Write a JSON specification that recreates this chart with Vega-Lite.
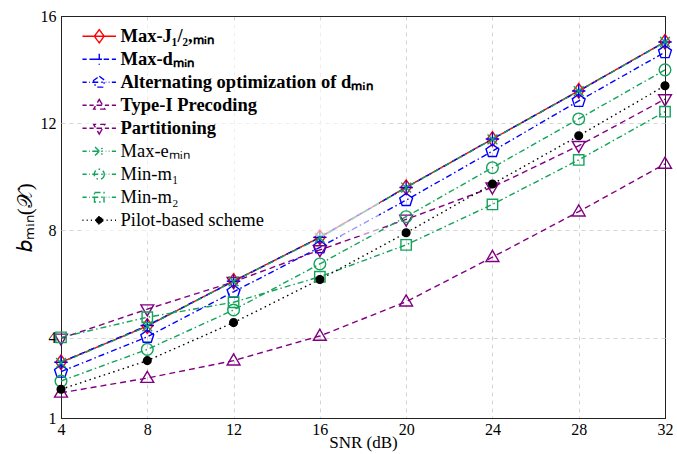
{
  "$schema": "https://vega.github.io/schema/vega-lite/v6.json",
  "width": 604,
  "height": 402,
  "autosize": {"type": "none"},
  "padding": {"left": 61, "top": 16, "right": 12, "bottom": 36},
  "background": "white",
  "config": {"font": "Liberation Serif", "view": {"stroke": "black", "strokeWidth": 1}},
  "data": {"values": [
    {"series": "Max-J₁/₂,ₘᵢₙ", "snr": 4, "b": 3.08}, {"series": "Max-J₁/₂,ₘᵢₙ", "snr": 8, "b": 4.43}, {"series": "Max-J₁/₂,ₘᵢₙ", "snr": 12, "b": 6.11}, {"series": "Max-J₁/₂,ₘᵢₙ", "snr": 16, "b": 7.74}, {"series": "Max-J₁/₂,ₘᵢₙ", "snr": 20, "b": 9.61}, {"series": "Max-J₁/₂,ₘᵢₙ", "snr": 24, "b": 11.41}, {"series": "Max-J₁/₂,ₘᵢₙ", "snr": 28, "b": 13.21}, {"series": "Max-J₁/₂,ₘᵢₙ", "snr": 32, "b": 15.04},
    {"series": "Max-dₘᵢₙ", "snr": 4, "b": 3.08}, {"series": "Max-dₘᵢₙ", "snr": 8, "b": 4.45}, {"series": "Max-dₘᵢₙ", "snr": 12, "b": 6.1}, {"series": "Max-dₘᵢₙ", "snr": 16, "b": 7.74}, {"series": "Max-dₘᵢₙ", "snr": 20, "b": 9.6}, {"series": "Max-dₘᵢₙ", "snr": 24, "b": 11.41}, {"series": "Max-dₘᵢₙ", "snr": 28, "b": 13.2}, {"series": "Max-dₘᵢₙ", "snr": 32, "b": 15.03},
    {"series": "Alternating optimization of dₘᵢₙ", "snr": 4, "b": 2.73}, {"series": "Alternating optimization of dₘᵢₙ", "snr": 8, "b": 4.03}, {"series": "Alternating optimization of dₘᵢₙ", "snr": 12, "b": 5.71}, {"series": "Alternating optimization of dₘᵢₙ", "snr": 16, "b": 7.37}, {"series": "Alternating optimization of dₘᵢₙ", "snr": 20, "b": 9.13}, {"series": "Alternating optimization of dₘᵢₙ", "snr": 24, "b": 10.96}, {"series": "Alternating optimization of dₘᵢₙ", "snr": 28, "b": 12.83}, {"series": "Alternating optimization of dₘᵢₙ", "snr": 32, "b": 14.65},
    {"series": "Type-I Precoding", "snr": 4, "b": 1.94}, {"series": "Type-I Precoding", "snr": 8, "b": 2.49}, {"series": "Type-I Precoding", "snr": 12, "b": 3.14}, {"series": "Type-I Precoding", "snr": 16, "b": 4.06}, {"series": "Type-I Precoding", "snr": 20, "b": 5.34}, {"series": "Type-I Precoding", "snr": 24, "b": 7.0}, {"series": "Type-I Precoding", "snr": 28, "b": 8.7}, {"series": "Type-I Precoding", "snr": 32, "b": 10.48},
    {"series": "Partitioning", "snr": 4, "b": 3.97}, {"series": "Partitioning", "snr": 8, "b": 5.06}, {"series": "Partitioning", "snr": 12, "b": 6.08}, {"series": "Partitioning", "snr": 16, "b": 7.27}, {"series": "Partitioning", "snr": 20, "b": 8.41}, {"series": "Partitioning", "snr": 24, "b": 9.61}, {"series": "Partitioning", "snr": 28, "b": 11.16}, {"series": "Partitioning", "snr": 32, "b": 12.9},
    {"series": "Max-eₘᵢₙ", "snr": 4, "b": 3.06}, {"series": "Max-eₘᵢₙ", "snr": 8, "b": 4.42}, {"series": "Max-eₘᵢₙ", "snr": 12, "b": 6.1}, {"series": "Max-eₘᵢₙ", "snr": 16, "b": 7.72}, {"series": "Max-eₘᵢₙ", "snr": 20, "b": 9.6}, {"series": "Max-eₘᵢₙ", "snr": 24, "b": 11.4}, {"series": "Max-eₘᵢₙ", "snr": 28, "b": 13.2}, {"series": "Max-eₘᵢₙ", "snr": 32, "b": 15.03},
    {"series": "Min-m₁", "snr": 4, "b": 2.38}, {"series": "Min-m₁", "snr": 8, "b": 3.56}, {"series": "Min-m₁", "snr": 12, "b": 5.03}, {"series": "Min-m₁", "snr": 16, "b": 6.75}, {"series": "Min-m₁", "snr": 20, "b": 8.51}, {"series": "Min-m₁", "snr": 24, "b": 10.34}, {"series": "Min-m₁", "snr": 28, "b": 12.16}, {"series": "Min-m₁", "snr": 32, "b": 13.99},
    {"series": "Min-m₂", "snr": 4, "b": 4.01}, {"series": "Min-m₂", "snr": 8, "b": 4.76}, {"series": "Min-m₂", "snr": 12, "b": 5.32}, {"series": "Min-m₂", "snr": 16, "b": 6.27}, {"series": "Min-m₂", "snr": 20, "b": 7.46}, {"series": "Min-m₂", "snr": 24, "b": 8.97}, {"series": "Min-m₂", "snr": 28, "b": 10.63}, {"series": "Min-m₂", "snr": 32, "b": 12.43},
    {"series": "Pilot-based scheme", "snr": 4, "b": 2.07}, {"series": "Pilot-based scheme", "snr": 8, "b": 3.14}, {"series": "Pilot-based scheme", "snr": 12, "b": 4.56}, {"series": "Pilot-based scheme", "snr": 16, "b": 6.17}, {"series": "Pilot-based scheme", "snr": 20, "b": 7.91}, {"series": "Pilot-based scheme", "snr": 24, "b": 9.73}, {"series": "Pilot-based scheme", "snr": 28, "b": 11.53}, {"series": "Pilot-based scheme", "snr": 32, "b": 13.4}
  ]},
  "encoding": {
    "x": {"field": "snr", "type": "quantitative", "scale": {"domain": [4, 32], "nice": false},
      "axis": {"values": [4, 8, 12, 16, 20, 24, 28, 32], "title": "SNR (dB)", "titleFontSize": 17, "titleFontWeight": "normal", "titleColor": "black", "titleY": 29, "titleBaseline": "alphabetic", "labelFontSize": 16, "labelColor": "black", "labelPadding": 3, "labelFlush": false, "ticks": false, "domain": false, "grid": true,
        "gridDash": {"condition": {"test": "datum.value == 4 || datum.value == 32", "value": []}, "value": [4, 4]},
        "gridColor": {"condition": {"test": "datum.value == 4 || datum.value == 32", "value": "#222222"}, "value": "#d4d4d4"}}},
    "y": {"field": "b", "type": "quantitative", "scale": {"domain": [1, 16], "nice": false, "zero": false},
      "axis": {"values": [1, 4, 8, 12, 16], "title": "𝑏ₘᵢₙ(𝒳)", "titleFontSize": 21, "titleFontWeight": "normal", "titleColor": "black", "titlePadding": 5, "labelFontSize": 16, "labelColor": "black", "labelPadding": 5, "labelFlush": false, "ticks": false, "domain": false, "grid": true,
        "gridDash": {"condition": {"test": "datum.value == 1 || datum.value == 16", "value": []}, "value": [4, 4]},
        "gridColor": {"condition": {"test": "datum.value == 1 || datum.value == 16", "value": "#222222"}, "value": "#d4d4d4"}}},
    "color": {"field": "series", "type": "nominal",
      "scale": {"domain": ["Max-J₁/₂,ₘᵢₙ", "Max-dₘᵢₙ", "Alternating optimization of dₘᵢₙ", "Type-I Precoding", "Partitioning", "Max-eₘᵢₙ", "Min-m₁", "Min-m₂", "Pilot-based scheme"],
        "range": ["#ff0000", "#0000ff", "#0000ff", "#800080", "#800080", "#13a35a", "#13a35a", "#13a35a", "#000000"]},
      "legend": {"orient": "none", "legendX": 23, "legendY": 5, "title": null,
        "fillColor": "rgba(255,255,255,0.6)", "padding": 6,
        "labelFont": "Liberation Serif", "labelFontSize": 18.5, "labelColor": "black", "labelLimit": 420,
        "labelFontWeight": {"expr": "datum.index < 5 ? 'bold' : 'normal'"},
        "symbolSize": 196, "symbolStrokeWidth": 1.4, "symbolOpacity": 1, "labelOffset": 12, "rowPadding": 4}
    }
  },
  "layer": [
    {"mark": {"type": "line", "strokeWidth": 1.4},
     "encoding": {"strokeDash": {"field": "series", "type": "nominal", "legend": null,
       "scale": {"domain": ["Max-J₁/₂,ₘᵢₙ", "Max-dₘᵢₙ", "Alternating optimization of dₘᵢₙ", "Type-I Precoding", "Partitioning", "Max-eₘᵢₙ", "Min-m₁", "Min-m₂", "Pilot-based scheme"],
         "range": [[1, 0], [6, 4], [6, 3, 1.5, 3], [6, 4], [6, 4], [6, 3, 1.5, 3], [6, 3, 1.5, 3], [6, 3, 1.5, 3], [1.5, 3.5]]}}}},
    {"transform": [{"filter": {"field": "series", "equal": "Max-J₁/₂,ₘᵢₙ"}}],
     "mark": {"type": "point", "filled": false, "strokeWidth": 1.4, "size": 150, "opacity": 1, "shape": "M0,-1.2L0.85,0L0,1.2L-0.85,0Z"}},
    {"transform": [{"filter": {"field": "series", "equal": "Max-dₘᵢₙ"}}],
     "mark": {"type": "point", "filled": false, "strokeWidth": 1.4, "size": 150, "opacity": 1, "shape": "M-1.1,0H1.1M0,-1.1V1.1"}},
    {"transform": [{"filter": {"field": "series", "equal": "Alternating optimization of dₘᵢₙ"}}],
     "mark": {"type": "point", "filled": false, "strokeWidth": 1.4, "size": 150, "opacity": 1, "shape": "M0,-1.1L1.05,-0.34L0.65,0.89L-0.65,0.89L-1.05,-0.34Z"}},
    {"transform": [{"filter": {"field": "series", "equal": "Type-I Precoding"}}],
     "mark": {"type": "point", "filled": false, "strokeWidth": 1.4, "size": 150, "opacity": 1, "shape": "M0,-1.1L1.05,0.7L-1.05,0.7Z"}},
    {"transform": [{"filter": {"field": "series", "equal": "Partitioning"}}],
     "mark": {"type": "point", "filled": false, "strokeWidth": 1.4, "size": 150, "opacity": 1, "shape": "M0,1.1L1.05,-0.7L-1.05,-0.7Z"}},
    {"transform": [{"filter": {"field": "series", "equal": "Max-eₘᵢₙ"}}],
     "mark": {"type": "point", "filled": false, "strokeWidth": 1.4, "size": 150, "opacity": 1, "shape": "M-0.8,-0.8L0.8,0.8M-0.8,0.8L0.8,-0.8"}},
    {"transform": [{"filter": {"field": "series", "equal": "Min-m₁"}}],
     "mark": {"type": "point", "filled": false, "strokeWidth": 1.4, "size": 150, "opacity": 1, "shape": "M0.95,0A0.95,0.95,0,1,1,-0.95,0A0.95,0.95,0,1,1,0.95,0Z"}},
    {"transform": [{"filter": {"field": "series", "equal": "Min-m₂"}}],
     "mark": {"type": "point", "filled": false, "strokeWidth": 1.4, "size": 150, "opacity": 1, "shape": "M-0.85,-0.85H0.85V0.85H-0.85Z"}},
    {"transform": [{"filter": {"field": "series", "equal": "Pilot-based scheme"}}],
     "mark": {"type": "point", "filled": false, "fill": "black", "strokeWidth": 1.4, "size": 121, "opacity": 1, "shape": "M0.7,0A0.7,0.7,0,1,1,-0.7,0A0.7,0.7,0,1,1,0.7,0Z"}},
    {"mark": {"type": "point", "filled": false, "opacity": 0, "size": 196},
     "encoding": {
       "shape": {"field": "series", "type": "nominal",
         "scale": {"domain": ["Max-J₁/₂,ₘᵢₙ", "Max-dₘᵢₙ", "Alternating optimization of dₘᵢₙ", "Type-I Precoding", "Partitioning", "Max-eₘᵢₙ", "Min-m₁", "Min-m₂", "Pilot-based scheme"],
           "range": ["M-2.4,0H2.4M0,-0.95L0.7,0L0,0.95L-0.7,0Z", "M-2.4,0H-1.8M-1.4,0H-0.8M-0.4,0H0.4M0.8,0H1.4M1.8,0H2.4M-0.8,0H0.8M0,-0.8V0.8", "M-2.4,0H-1.8M-1.45,0H-1.35M-1,0H1M1.35,0H1.45M1.8,0H2.4M0,-0.85L0.81,-0.26L0.5,0.69L-0.5,0.69L-0.81,-0.26Z", "M-2.4,0H-1.8M-1.4,0H-0.8M-0.4,0H0.4M0.8,0H1.4M1.8,0H2.4M0,-0.85L0.8,0.55L-0.8,0.55Z", "M-2.4,0H-1.8M-1.4,0H-0.8M-0.4,0H0.4M0.8,0H1.4M1.8,0H2.4M0,0.85L0.8,-0.55L-0.8,-0.55Z", "M-2.4,0H-1.8M-1.45,0H-1.35M-1,0H1M1.35,0H1.45M1.8,0H2.4M-0.6,-0.6L0.6,0.6M-0.6,0.6L0.6,-0.6", "M-2.4,0H-1.8M-1.45,0H-1.35M-1,0H1M1.35,0H1.45M1.8,0H2.4M0.72,0A0.72,0.72,0,1,1,-0.72,0A0.72,0.72,0,1,1,0.72,0Z", "M-2.4,0H-1.8M-1.45,0H-1.35M-1,0H1M1.35,0H1.45M1.8,0H2.4M-0.68,-0.68H0.68V0.68H-0.68Z", "M-2.4,0H-2.25M-1.8,0H-1.65M-1.2,0H-1.05M-0.6,0H-0.45M0.45,0H0.6M1.05,0H1.2M1.65,0H1.8M2.25,0H2.4M0.5,0A0.5,0.5,0,1,1,-0.5,0A0.5,0.5,0,1,1,0.5,0Z"]}},
       "fill": {"field": "series", "type": "nominal",
         "scale": {"domain": ["Max-J₁/₂,ₘᵢₙ", "Max-dₘᵢₙ", "Alternating optimization of dₘᵢₙ", "Type-I Precoding", "Partitioning", "Max-eₘᵢₙ", "Min-m₁", "Min-m₂", "Pilot-based scheme"],
           "range": ["transparent", "transparent", "transparent", "transparent", "transparent", "transparent", "transparent", "transparent", "#000000"]}}
     }}
  ]
}
